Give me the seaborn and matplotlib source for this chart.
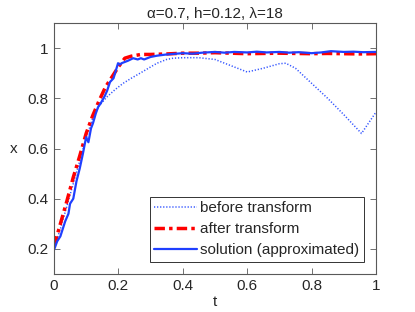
import numpy as np
import pandas as pd
import seaborn as sns
import matplotlib
matplotlib.use("Agg")
import matplotlib.pyplot as plt

sns.set_style("ticks")
plt.rcParams['font.family'] = ['Liberation Sans', 'DejaVu Sans']

# ------------------------------------------------------------
# DATA
# ------------------------------------------------------------
t_bef = [0, .02, .04, .06, .08, .10, .12, .14, .164, .19, .215, .24, .267, .30, .32, .35, .37,
         .40, .45, .50, .55, .60, .65, .70, .72, .75, .80, .85, .90, .955, 1.0]
x_bef = [.20, .28, .37, .46, .55, .64, .72, .77, .805, .835, .86, .88, .90, .925, .94, .955, .96,
         .962, .962, .955, .93, .905, .92, .938, .94, .92, .86, .80, .735, .66, .745]

t_aft = [0, .02, .04, .06, .08, .10, .12, .14, .16, .18, .20, .22, .24, .27, .30, .35, .40,
         .45, .50, .55, .60, .65, .70, .75, .80, .85, .90, .95, 1.0]
x_aft = [.21, .30, .39, .485, .57, .66, .73, .79, .845, .885, .925, .96, .968, .975, .975, .977, .98,
         .98, .982, .98, .978, .979, .98, .979, .978, .979, .978, .977, .978]

t_sol = [0, .01, .02, .03, .035, .045, .05, .06, .07, .08, .09, .096, .10, .107, .115, .121,
         .13, .137, .145, .158, .165, .174, .185, .199, .205, .21, .22, .23, .246, .26, .27,
         .28, .29, .30, .32, .35, .38, .40, .43, .46, .50, .53, .56, .60, .63, .66, .70, .73,
         .76, .80, .83, .86, .90, .93, .96, 1.0]
x_sol = [.195, .23, .25, .29, .31, .34, .38, .40, .47, .52, .58, .62, .645, .625, .68, .70,
         .74, .765, .78, .81, .83, .865, .88, .94, .935, .94, .945, .95, .96, .955, .96,
         .955, .96, .965, .97, .975, .978, .98, .978, .982, .985, .982, .985, .983, .986, .983, .985, .982,
         .984, .98, .983, .988, .985, .986, .984, .985]

title = "\u03b1=0.7, h=0.12, \u03bb=18"

# ------------------------------------------------------------
# PLOT
# ------------------------------------------------------------
fig = plt.figure(figsize=(4.15, 3.12), dpi=100)
ax = fig.add_axes([0.130, 0.122, 0.776, 0.804])

sns.lineplot(x=t_bef, y=x_bef, ax=ax, color="#3355ff", lw=1.1, label="before transform",
             dashes=False, linestyle=(0, (0.8, 1.2)))
sns.lineplot(x=t_aft, y=x_aft, ax=ax, color="red", lw=2.5, label="after transform",
             linestyle=(0, (3, 1.2, 1, 1.2)))
sns.lineplot(x=t_sol, y=x_sol, ax=ax, color="#1f3fff", lw=1.6, label="solution (approximated)")

ax.set_xlim(0, 1)
ax.set_ylim(0.1, 1.1)
ax.set_xticks([0, 0.2, 0.4, 0.6, 0.8, 1])
ax.set_xticklabels(["0", "0.2", "0.4", "0.6", "0.8", "1"])
ax.set_yticks([0.2, 0.4, 0.6, 0.8, 1])
ax.set_yticklabels(["0.2", "0.4", "0.6", "0.8", "1"])
ax.tick_params(direction="in", top=True, right=True, labelsize=11, length=4, width=0.6,
               color="0.35", pad=4)
for s in ax.spines.values():
    s.set_linewidth(0.8)
    s.set_color("0.35")

ax.set_xlabel("t", fontsize=11, labelpad=1)
ax.set_ylabel("x", fontsize=11, labelpad=10, rotation=0, va="center")
ax.set_title(title, fontsize=11, pad=4)

leg = ax.legend(loc="lower right", fontsize=11, frameon=True, fancybox=False,
                edgecolor="black", borderpad=0.3, labelspacing=0.45, handlelength=2.8,
                handletextpad=0.2, borderaxespad=0.8)
leg.get_frame().set_linewidth(0.7)

fig.savefig("out.png", dpi=100)
